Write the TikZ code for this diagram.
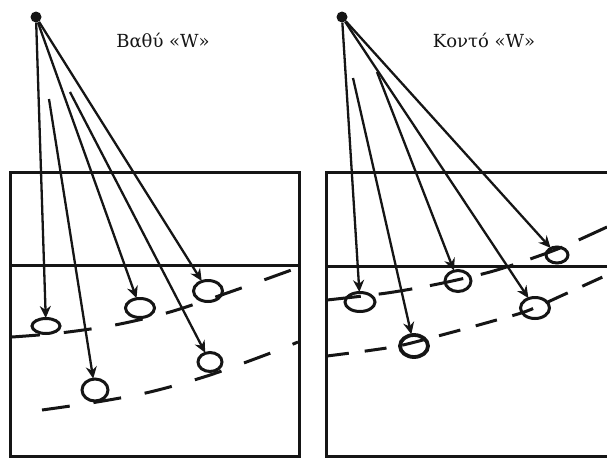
\documentclass[tikz,border=0pt]{standalone}
\usepackage{fontspec}
\setmainfont{DejaVu Serif}
\usetikzlibrary{arrows.meta,shapes.geometric}
\definecolor{ink}{HTML}{151515}
\tikzset{
  ray/.style={draw=ink, line width=2.3pt, -{Stealth[length=12pt,width=11pt]}, shorten >=-1pt},
  frame/.style={draw=ink, line width=3pt},
  surface/.style={draw=ink, line width=3pt},
  layer/.style={draw=ink, line width=3pt, dash pattern=on 28pt off 24pt},
  fish/.style={ellipse, draw=ink, line width=3pt, inner sep=0pt},
  src/.style={circle, fill=ink, minimum size=11pt, inner sep=0pt},
  lbl/.style={font=\fontsize{18}{20}\selectfont, text=ink}
}
\begin{document}
\begin{tikzpicture}[x=1pt,y=-1pt]
\useasboundingbox (0,0) rectangle (607,458);
% ---------- left panel ----------
\draw[frame] (10,456) -- (10,172) -- (299,172) -- (299,456) -- cycle;
\coordinate (lsl) at (10,265);
\coordinate (lsr) at (299,265);
\draw[surface] (lsl) -- (lsr);
\node[lbl] (ltitle) at (163,41) {Βαθύ «W»};
\node[src] (lsrc) at (36,17) {};
\coordinate (ls2) at (49,99);
\coordinate (ls4) at (70,92);
\node[fish, minimum width=28pt, minimum height=15pt] (lc1) at (46,326) {};
\node[fish, minimum width=26pt, minimum height=22pt] (lc2) at (95,390) {};
\node[fish, minimum width=29pt, minimum height=19pt] (lc3) at (140,308) {};
\node[fish, minimum width=24pt, minimum height=19pt] (lc4) at (210,362) {};
\node[fish, minimum width=29pt, minimum height=21pt] (lc5) at (208,291) {};
\draw[ray] (lsrc) -- (lc1);
\draw[ray] (ls2) -- (lc2);
\draw[ray] (lsrc) -- (lc3);
\draw[ray] (ls4) -- (lc4);
\draw[ray] (lsrc) -- (lc5);
\draw[layer] plot[smooth] coordinates {(12,337) (60,333) (115,325) (170,312) (230,292) (297,268)};
\draw[layer] plot[smooth] coordinates {(42,410) (97,402) (150,392) (207,376) (268,354) (298,342)};
% ---------- right panel ----------
\draw[frame] (612,172) -- (326,172) -- (326,456) -- (612,456);
\coordinate (rsl) at (326,266);
\coordinate (rsr) at (612,266);
\draw[surface] (rsl) -- (rsr);
\node[lbl] (rtitle) at (484,41) {Κοντό «W»};
\node[src] (rsrc) at (342,17) {};
\coordinate (rs2) at (353,78);
\coordinate (rs3) at (377,72);
\node[fish, minimum width=30pt, minimum height=19pt] (rc1) at (360,302) {};
\node[fish, minimum width=28pt, minimum height=22pt, line width=3.8pt] (rc2) at (414,346) {};
\node[fish, minimum width=26pt, minimum height=21pt] (rc3) at (458,281) {};
\node[fish, minimum width=29pt, minimum height=21pt] (rc4) at (535,308) {};
\node[fish, minimum width=22pt, minimum height=16pt] (rc5) at (557,255) {};
\draw[ray] (rsrc) -- (rc1);
\draw[ray] (rs2) -- (rc2);
\draw[ray] (rs3) -- (rc3);
\draw[ray] (rsrc) -- (rc4);
\draw[ray] (rsrc) -- (rc5);
\draw[layer, dash pattern=on 34pt off 18pt] plot[smooth] coordinates {(327,300) (387,293) (438,284) (490,272) (533,258) (565,246) (607,227)};
\draw[layer, dash pattern=on 22pt off 16pt] plot[smooth] coordinates {(327,356) (373,350) (403,345) (453,332) (493,321) (527,311) (563,295) (607,275)};
\end{tikzpicture}
\end{document}
